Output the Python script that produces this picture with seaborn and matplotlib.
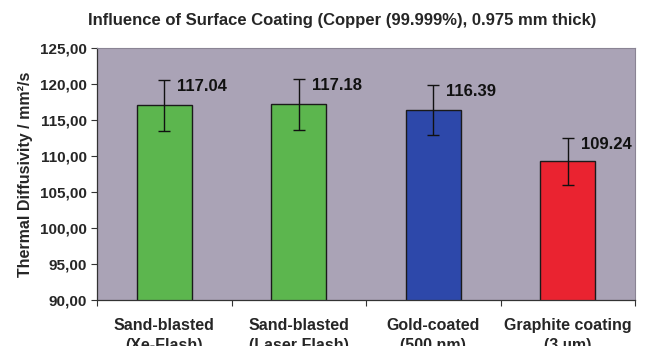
import matplotlib
matplotlib.use("Agg")
import matplotlib.pyplot as plt
import seaborn as sns
import pandas as pd
from matplotlib.ticker import FuncFormatter, MultipleLocator

# Measured thermal diffusivity per surface treatment
categories = [
    "Sand-blasted\n(Xe-Flash)",
    "Sand-blasted\n(Laser Flash)",
    "Gold-coated\n(500 nm)",
    "Graphite coating\n(3 µm)",
]
diffusivity = [117.04, 117.18, 116.39, 109.24]
uncertainty = [3.51, 3.52, 3.49, 3.28]
bar_colors = ["#5cb64e", "#5cb64e", "#2d48aa", "#ea2330"]

sns.set_style("white")
plt.rcParams["font.family"] = ["Liberation Sans", "DejaVu Sans"]
plt.rcParams["font.weight"] = "bold"

df = pd.DataFrame({"coating": categories, "value": diffusivity})

fig = plt.figure(figsize=(6.46, 3.46), dpi=100)
ax = fig.add_axes([97 / 646, 1 - 300 / 346, 538 / 646, 252 / 346])
ax.set_facecolor("#aaa3b6")

sns.barplot(data=df, x="coating", y="value", hue="coating",
            palette=bar_colors, legend=False, width=0.41, saturation=1,
            edgecolor="#1a1a1a", linewidth=1.0, ax=ax)

ax.errorbar(range(len(categories)), diffusivity, yerr=uncertainty,
            fmt="none", ecolor="#111111", elinewidth=1.0, capsize=4, capthick=1.0)

for i, (v, e) in enumerate(zip(diffusivity, uncertainty)):
    ax.text(i + 0.095, v + e + 0.15, f"{v:.2f}", ha="left", va="top",
            fontsize=12, fontweight="bold", color="#111111")

ax.set_ylim(90, 125)
ax.set_xlim(-0.5, len(categories) - 0.5)
ax.yaxis.set_major_locator(MultipleLocator(5))
ax.yaxis.set_major_formatter(FuncFormatter(lambda y, _: f"{y:.2f}".replace(".", ",")))

# category ticks sit on the boundaries, labels centred under bars
ax.set_xticks([i - 0.5 for i in range(len(categories) + 1)])
ax.set_xticklabels([])
ax.set_xticks(range(len(categories)), minor=True)
ax.set_xticklabels(categories, minor=True, fontsize=11.5, fontweight="bold",
                   linespacing=1.45)
ax.tick_params(axis="x", which="minor", length=0, pad=13)
ax.tick_params(axis="x", which="major", direction="out", length=4, width=0.8, color="#333333")
ax.tick_params(axis="y", direction="out", length=4, width=0.8, color="#333333",
               labelsize=11, pad=3)
ax.tick_params(bottom=True, left=True)
for lbl in ax.get_yticklabels():
    lbl.set_fontweight("bold")

ax.set_xlabel("")
ax.set_ylabel("Thermal Diffusivity / mm²/s", fontsize=11.5, fontweight="bold", labelpad=5)

for side in ["left", "bottom"]:
    ax.spines[side].set_color("#333333")
    ax.spines[side].set_linewidth(0.9)
for side in ["top", "right"]:
    ax.spines[side].set_color("#8a8494")
    ax.spines[side].set_linewidth(0.8)

fig.text(342 / 646, 1 - 20 / 346,
         "Influence of Surface Coating (Copper (99.999%), 0.975 mm thick)",
         ha="center", va="center", fontsize=12, fontweight="bold")

fig.savefig("out.png", dpi=100, facecolor="white")
